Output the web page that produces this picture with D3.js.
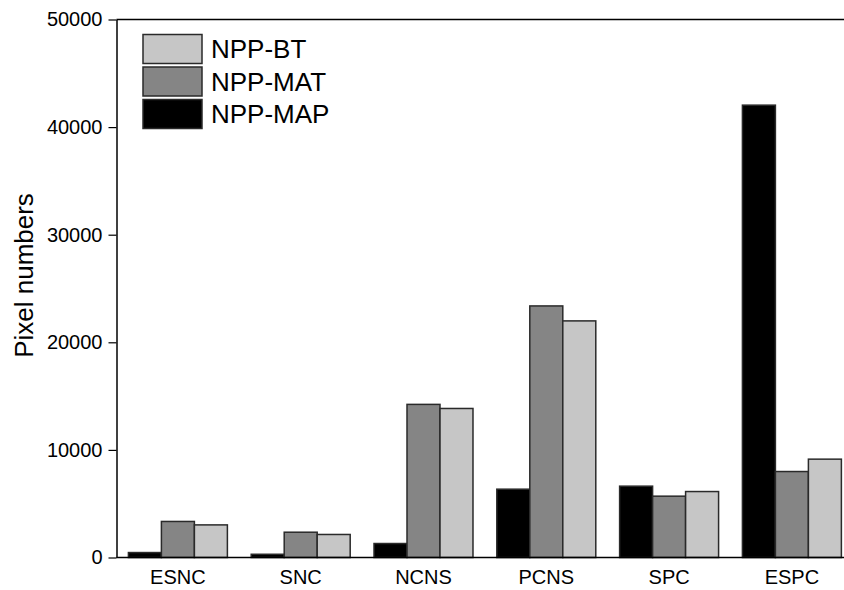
<!DOCTYPE html>
<html><head><meta charset="utf-8">
<script src="https://cdn.jsdelivr.net/npm/d3@7"></script>
<style>body{margin:0;background:#fff}svg{display:block;font-family:"Liberation Sans",Arial,sans-serif}</style>
</head><body><svg id="c" width="844" height="590"></svg>
<script>
const categories = ["ESNC","SNC","NCNS","PCNS","SPC","ESPC"];
const seriesNames = ["NPP-MAP","NPP-MAT","NPP-BT"];
const mapValues = [460, 300, 1300, 6350, 6630, 42040];
const matValues = [3350, 2350, 14230, 23380, 5700, 7990];
const btValues  = [3030, 2140, 13850, 21990, 6130, 9140];
const yTicks = [0, 10000, 20000, 30000, 40000, 50000];
const colors = {"NPP-MAP":"#000000","NPP-MAT":"#858585","NPP-BT":"#c6c6c6"};

const series = {"NPP-MAP":mapValues,"NPP-MAT":matValues,"NPP-BT":btValues};
const svg = d3.select("#c");
const mLeft = 116.5, mBottom = 557.5, mTop = 19.5, mRight = 844;

const y = d3.scaleLinear().domain([0, 50000]).range([mBottom, mTop]);
const x0 = d3.scaleBand().domain(categories).range([mLeft, mLeft + 6*122.8]).paddingInner(0.194).paddingOuter(0.097);
const x1 = d3.scaleBand().domain(seriesNames).range([0, x0.bandwidth()]);

// bars
const g = svg.append("g");
categories.forEach((c, i) => {
  seriesNames.forEach(s => {
    const v = series[s][i];
    g.append("rect")
      .attr("x", x0(c) + x1(s))
      .attr("y", y(v))
      .attr("width", x1.bandwidth())
      .attr("height", mBottom - y(v))
      .attr("fill", colors[s])
      .attr("stroke", "#2a2a2a")
      .attr("stroke-width", 1.5);
  });
});

// y axis
const yAxis = svg.append("g").attr("transform", `translate(${mLeft},0)`)
  .call(d3.axisLeft(y).tickValues(yTicks).tickFormat(d3.format("d")).tickSize(8).tickSizeOuter(0).tickPadding(6));
yAxis.select(".domain").attr("stroke", "#000").attr("stroke-width", 1.5);
yAxis.selectAll(".tick line").attr("stroke", "#000").attr("stroke-width", 1.2);
yAxis.selectAll("text").attr("font-size", 20).attr("fill", "#000").attr("font-family", "Liberation Sans, Arial, sans-serif");

// x axis
const xAxis = svg.append("g").attr("transform", `translate(0,${mBottom})`)
  .call(d3.axisBottom(x0).tickSize(0).tickSizeOuter(0).tickPadding(12));
xAxis.select(".domain").attr("d", `M${mLeft},0H${mRight}`).attr("stroke", "#000").attr("stroke-width", 1.5);
xAxis.selectAll("text").attr("font-size", 20).attr("fill", "#000").attr("font-family", "Liberation Sans, Arial, sans-serif");

// top frame line
svg.append("line").attr("x1", mLeft).attr("x2", mRight).attr("y1", mTop).attr("y2", mTop)
  .attr("stroke", "#000").attr("stroke-width", 1.5);

// y label
svg.append("text").attr("transform", `translate(33,${(188+363)/2}) rotate(-90)`)
  .attr("text-anchor", "middle").attr("font-size", 26).attr("fill", "#000").text("Pixel numbers");

// legend
const legendOrder = ["NPP-BT","NPP-MAT","NPP-MAP"];
const lg = svg.append("g");
legendOrder.forEach((s, i) => {
  const yy = 34.5 + i*32.5;
  lg.append("rect").attr("x", 143).attr("y", yy).attr("width", 59).attr("height", 29)
    .attr("fill", colors[s]).attr("stroke", "#2a2a2a").attr("stroke-width", 1.5);
  lg.append("text").attr("x", 211).attr("y", yy + 14.5).attr("dy", "0.36em")
    .attr("font-size", 26).attr("fill", "#000").text(s);
});
</script></body></html>
